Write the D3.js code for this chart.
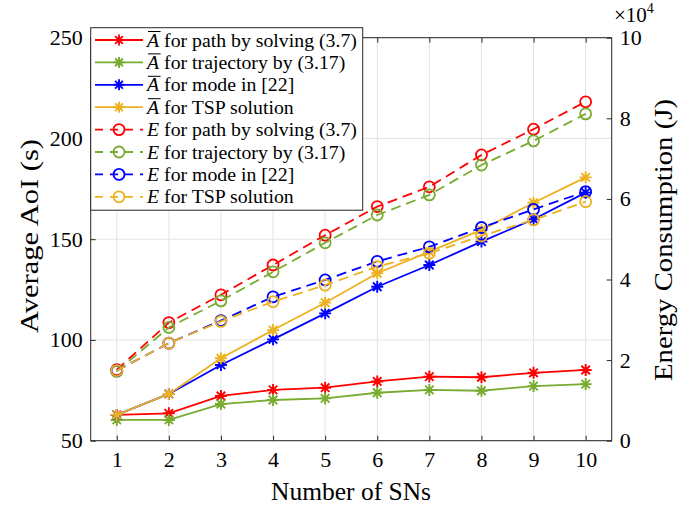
<!DOCTYPE html>
<html>
<head>
<meta charset="utf-8">
<title>AoI and energy vs number of SNs</title>
<script src="https://cdn.jsdelivr.net/npm/d3@7"></script>
<style>
body { margin: 0; background: #fff; }
svg { font-family: "Liberation Serif", "Times New Roman", serif; }
</style>
</head>
<body>
<svg id="chart" width="680" height="509"></svg>
<script>

/* data */
var numSNs = [1, 2, 3, 4, 5, 6, 7, 8, 9, 10];

// average AoI (s), left axis
var aoiPath = [62.8, 63.6, 72.2, 75.2, 76.3, 79.4, 81.8, 81.5, 83.7, 85.1];
var aoiTraj = [60.3, 60.3, 68.2, 70.2, 71.0, 73.8, 75.2, 74.8, 77.1, 78.1];
var aoiMode = [62.8, 73.2, 87.6, 100.3, 113.2, 126.4, 137.2, 148.8, 159.9, 173.1];
var aoiTsp  = [62.8, 73.2, 90.9, 104.9, 118.5, 133.1, 143.8, 154.6, 168.1, 180.7];

// energy consumption (J), right axis
var enPath = [17600, 29300, 36200, 43600, 51000, 58100, 63000, 70900, 77300, 84100];
var enTraj = [17200, 28100, 34700, 41900, 49100, 56000, 61000, 68400, 74400, 81100];
var enMode = [17400, 24200, 29800, 35700, 39900, 44500, 48100, 52900, 57400, 61800];
var enTsp  = [17400, 24200, 29600, 34500, 38600, 43200, 46500, 50800, 54800, 59300];

var legendSym = ["A", "A", "A", "A", "E", "E", "E", "E"];
var legendText = [" for path by solving (3.7)", " for trajectory by (3.17)", " for mode in [22]", " for TSP solution",
                  " for path by solving (3.7)", " for trajectory by (3.17)", " for mode in [22]", " for TSP solution"];

var xTicks = [1, 2, 3, 4, 5, 6, 7, 8, 9, 10];
var leftTicks = [50, 100, 150, 200, 250];
var rightTicks = [0, 20000, 40000, 60000, 80000, 100000];

/* layout */
var colors = ["#ff0000", "#77ac30", "#0000ff", "#edb120"];
var pLeft = 90.7, pRight = 611.7, pTop = 37.7, pBottom = 440.7;
var axisColor = "#262626";

var svg = d3.select("#chart");

var x = d3.scaleLinear().domain([0.5, 10.5]).range([pLeft, pRight]);
var yL = d3.scaleLinear().domain([50, 250]).range([pBottom, pTop]);
var yR = d3.scaleLinear().domain([0, 100000]).range([pBottom, pTop]);

/* grid */
var grid = svg.append("g").attr("stroke", "#e3e3e3").attr("stroke-width", 1);
grid.selectAll(".gx").data(xTicks).enter().append("line")
    .attr("x1", function(d) { return x(d); }).attr("x2", function(d) { return x(d); })
    .attr("y1", pTop).attr("y2", pBottom);
grid.selectAll(".gy").data(leftTicks).enter().append("line")
    .attr("x1", pLeft).attr("x2", pRight)
    .attr("y1", function(d) { return yL(d); }).attr("y2", function(d) { return yL(d); });

/* axes */
function styleAxis(g) {
    g.select(".domain").remove();
    g.selectAll(".tick line").attr("stroke", axisColor);
    g.selectAll(".tick text").attr("fill", "#000").attr("font-size", 22)
        .attr("font-family", "Liberation Serif, serif");
}

svg.append("g").attr("transform", "translate(0," + pBottom + ")")
    .call(d3.axisBottom(x).tickValues(xTicks).tickSize(-5).tickPadding(11).tickFormat(d3.format("d")))
    .call(styleAxis);
svg.append("g").attr("transform", "translate(0," + pTop + ")")
    .call(d3.axisTop(x).tickValues(xTicks).tickSize(-5).tickFormat(""))
    .call(styleAxis);
svg.append("g").attr("transform", "translate(" + pLeft + ",0)")
    .call(d3.axisLeft(yL).tickValues(leftTicks).tickSize(-5).tickPadding(8))
    .call(styleAxis);
svg.append("g").attr("transform", "translate(" + pRight + ",0)")
    .call(d3.axisRight(yR).tickValues(rightTicks).tickSize(-5).tickPadding(8)
        .tickFormat(function(d) { return d / 10000; }))
    .call(styleAxis);

svg.append("rect").attr("x", pLeft).attr("y", pTop)
    .attr("width", pRight - pLeft).attr("height", pBottom - pTop)
    .attr("fill", "none").attr("stroke", axisColor).attr("stroke-width", 1);

// exponent label
var ex = svg.append("text").attr("x", 614).attr("y", 22).attr("font-size", 21).attr("fill", "#000");
ex.append("tspan").text("\u00d710");
ex.append("tspan").attr("font-size", 14).attr("dy", -9).text("4");

/* axis titles */
svg.append("text").attr("x", 351).attr("y", 500).attr("text-anchor", "middle")
    .attr("font-size", 25).attr("textLength", 160).attr("lengthAdjust", "spacingAndGlyphs")
    .text("Number of SNs");
svg.append("text").attr("transform", "translate(38,236) rotate(-90)")
    .attr("text-anchor", "middle").attr("font-size", 25)
    .attr("textLength", 194).attr("lengthAdjust", "spacingAndGlyphs").text("Average AoI (s)");
svg.append("text").attr("transform", "translate(672,240) rotate(-90)")
    .attr("text-anchor", "middle").attr("font-size", 25)
    .attr("textLength", 282).attr("lengthAdjust", "spacingAndGlyphs").text("Energy Consumption (J)");

/* series */
function starPath(cx, cy, r) {
    var d = r * 0.7071;
    return "M" + (cx - r) + "," + cy + "H" + (cx + r) +
           "M" + cx + "," + (cy - r) + "V" + (cy + r) +
           "M" + (cx - d) + "," + (cy - d) + "L" + (cx + d) + "," + (cy + d) +
           "M" + (cx - d) + "," + (cy + d) + "L" + (cx + d) + "," + (cy - d);
}

var aoiSeries = [aoiPath, aoiTraj, aoiMode, aoiTsp];
var enSeries = [enPath, enTraj, enMode, enTsp];
var plot = svg.append("g");

var lineL = d3.line().x(function(d, i) { return x(numSNs[i]); }).y(function(d) { return yL(d); });
var lineR = d3.line().x(function(d, i) { return x(numSNs[i]); }).y(function(d) { return yR(d); });

aoiSeries.forEach(function(s, k) {
    plot.append("path").attr("d", lineL(s)).attr("fill", "none")
        .attr("stroke", colors[k]).attr("stroke-width", 1.8);
    plot.append("path").attr("fill", "none").attr("stroke", colors[k]).attr("stroke-width", 1.9)
        .attr("d", s.map(function(d, i) { return starPath(x(numSNs[i]), yL(d), 6); }).join(""));
});

enSeries.forEach(function(s, k) {
    plot.append("path").attr("d", lineR(s)).attr("fill", "none")
        .attr("stroke", colors[k]).attr("stroke-width", 1.8).attr("stroke-dasharray", "10,6");
    plot.selectAll(null).data(s).enter().append("circle")
        .attr("cx", function(d, i) { return x(numSNs[i]); })
        .attr("cy", function(d) { return yR(d); })
        .attr("r", 5.5).attr("fill", "none")
        .attr("stroke", colors[k]).attr("stroke-width", 1.8);
});

/* legend */
var lg = svg.append("g");
lg.append("rect").attr("x", pLeft).attr("y", 27.7).attr("width", 272).attr("height", 182.5)
    .attr("fill", "#fff").attr("stroke", axisColor).attr("stroke-width", 1);

legendText.forEach(function(t, i) {
    var cy = 40 + i * 22.4;
    var c = colors[i % 4];
    var dashed = i >= 4;
    lg.append("line").attr("x1", 95).attr("x2", 143).attr("y1", cy).attr("y2", cy)
        .attr("stroke", c).attr("stroke-width", 1.8)
        .attr("stroke-dasharray", dashed ? "8,7" : null);
    if (dashed) {
        lg.append("circle").attr("cx", 119).attr("cy", cy).attr("r", 5.5)
            .attr("fill", "none").attr("stroke", c).attr("stroke-width", 1.8);
    } else {
        lg.append("path").attr("d", starPath(119, cy, 5.5)).attr("fill", "none")
            .attr("stroke", c).attr("stroke-width", 1.9);
    }
    var txt = lg.append("text").attr("x", 147).attr("y", cy + 6.5).attr("font-size", 19.8).attr("fill", "#000");
    txt.append("tspan").attr("font-style", "italic").text(legendSym[i]);
    txt.append("tspan").text(t);
    if (!dashed) {
        var w = txt.node().getSubStringLength(0, 1);
        lg.append("line").attr("x1", 148).attr("x2", 147 + w + 1.5)
            .attr("y1", cy - 8.5).attr("y2", cy - 8.5)
            .attr("stroke", "#000").attr("stroke-width", 1);
    }
});

</script>
</body>
</html>
